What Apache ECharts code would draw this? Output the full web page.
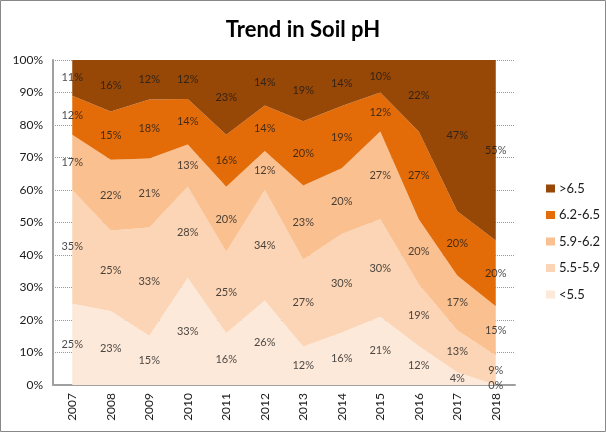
<!DOCTYPE html>
<html><head><meta charset="utf-8">
<script src="https://cdn.jsdelivr.net/npm/echarts@6/dist/echarts.min.js"></script>
<style>html,body{margin:0;padding:0;background:#fff}#c{width:606px;height:432px}</style>
</head><body><div id="c"></div>
<script>
const years = ['2007','2008','2009','2010','2011','2012','2013','2014','2015','2016','2017','2018'];
const lt55   = [25,23,15,33,16,26,12,16,21,12,4,0];
const s55_59 = [35,25,33,28,25,34,27,30,30,19,13,9];
const s59_62 = [17,22,21,13,20,12,23,20,27,20,17,15];
const s62_65 = [12,15,18,14,16,14,20,19,12,27,20,20];
const gt65   = [11,16,12,12,23,14,19,14,10,22,47,55];
const yTicks = ['0%','10%','20%','30%','40%','50%','60%','70%','80%','90%','100%'];

const names = ['<5.5','5.5-5.9','5.9-6.2','6.2-6.5','>6.5'];
const raw = [lt55, s55_59, s59_62, s62_65, gt65];
const colors = ['#FDE9D9','#FBD5B5','#FAC090','#E36C09','#974706'];

const totals = years.map((_, i) => raw.reduce((a, s) => a + s[i], 0));
const norm = raw.map(s => s.map((v, i) => v / totals[i] * 100));

const series = [];
names.forEach((n, k) => {
  series.push({
    name: n, type: 'line', stack: 'all', data: norm[k],
    symbol: 'none', lineStyle: {width: 0}, areaStyle: {color: colors[k], opacity: 1},
    itemStyle: {color: colors[k]}, z: 2
  });
});
names.forEach((n, k) => {
  const pts = years.map((_, i) => {
    let below = 0;
    for (let j = 0; j < k; j++) below += norm[j][i];
    return {value: [i, below + norm[k][i] / 2], lab: raw[k][i]};
  });
  series.push({
    name: n + '_lab', type: 'scatter', data: pts, symbolSize: 0, silent: true, z: 5,
    label: {show: true, position: 'inside', formatter: p => p.data.lab + '%',
      color: '#1a1a1a', fontSize: 11, fontFamily: 'Lato'}
  });
});

const chart = echarts.init(document.getElementById('c'), null, {renderer: 'canvas'});
chart.setOption({
  animation: false,
  backgroundColor: '#fff',
  title: {text: 'Trend in Soil pH', left: 'center', top: 14,
    textStyle: {fontFamily: 'Lato', fontWeight: 'bold', fontSize: 22, color: '#000'}},
  legend: {
    data: ['>6.5','6.2-6.5','5.9-6.2','5.5-5.9','<5.5'],
    orient: 'vertical', left: 541, top: 177, itemWidth: 9, itemHeight: 8, itemGap: 13.5,
    icon: 'rect', textStyle: {fontFamily: 'Lato', fontSize: 13, color: '#1a1a1a', padding: [0,0,0,-1]}
  },
  grid: {left: 53, right: 91, top: 60, bottom: 47, containLabel: false},
  xAxis: {
    type: 'category', data: years, boundaryGap: true,
    axisLine: {lineStyle: {color: '#a0a0a0', width: 2}}, axisTick: {show: false},
    axisLabel: {rotate: 90, color: '#1a1a1a', fontFamily: 'Lato', fontSize: 12, margin: 8}
  },
  yAxis: {
    type: 'value', min: 0, max: 100, interval: 10,
    axisLine: {show: true, lineStyle: {color: '#a0a0a0', width: 2}}, axisTick: {show: false},
    axisLabel: {formatter: v => yTicks[Math.round(v / 10)], color: '#1a1a1a', fontFamily: 'Lato', fontSize: 12, margin: 10},
    splitLine: {show: true, lineStyle: {color: '#999', type: 'dotted', width: 1}}
  },
  graphic: [{type: 'rect', shape: {x: 0.5, y: 0.5, width: 605, height: 431},
    style: {fill: null, stroke: '#888', lineWidth: 1}, z: 100}],
  series: series
});
</script></body></html>
